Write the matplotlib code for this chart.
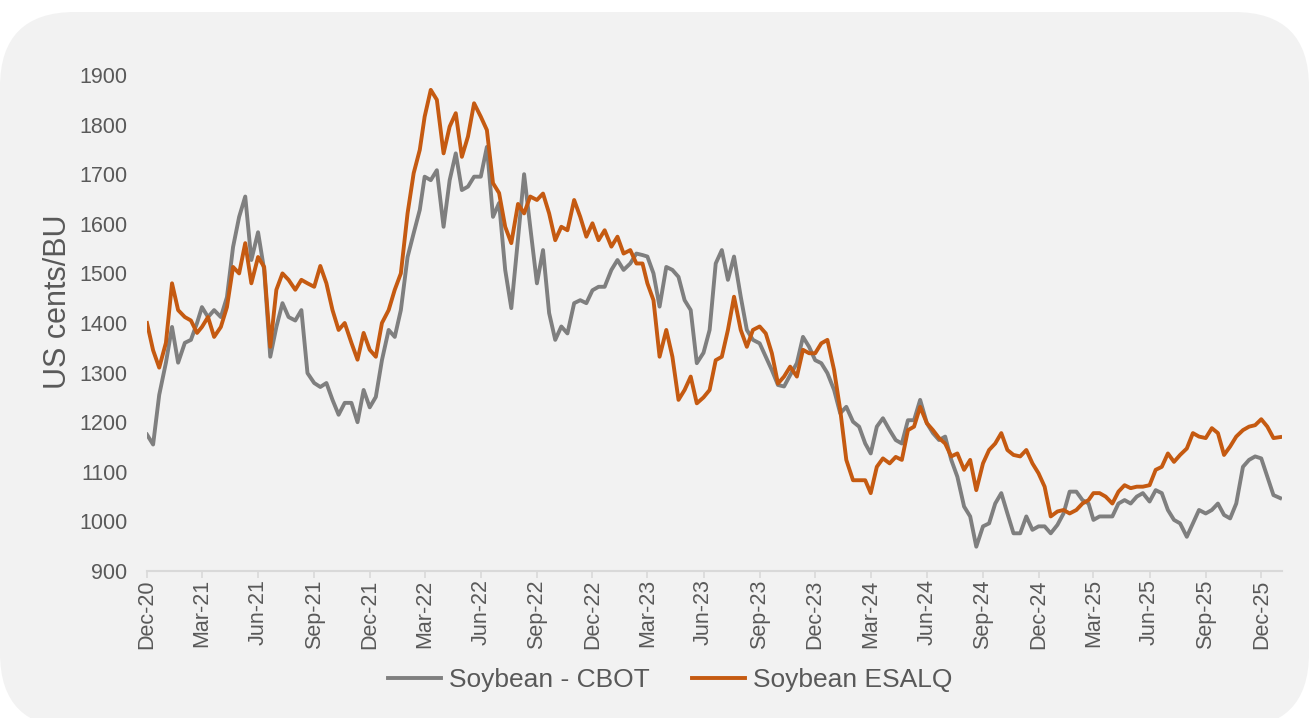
import matplotlib
matplotlib.use("Agg")
import matplotlib.pyplot as plt
import matplotlib.dates as mdates
from matplotlib.patches import FancyBboxPatch
import pandas as pd

plt.rcParams["font.family"] = ["Liberation Sans", "DejaVu Sans"]

# values, ~3 points per month (1st, 11th, 21st), Dec-20 .. Jan-26
cbot = [1175, 1155, 1255, 1320, 1392, 1320, 1360, 1366, 1400, 1432, 1412, 1426,
        1412, 1452, 1553, 1614, 1655, 1527, 1583, 1507, 1332, 1392, 1440, 1412,
        1405, 1426, 1299, 1279, 1271, 1279, 1245, 1215, 1239, 1239, 1200, 1265,
        1230, 1251, 1325, 1386, 1372, 1426, 1533, 1581, 1628, 1695, 1688, 1708,
        1594, 1688, 1742, 1668, 1675, 1695, 1695, 1755, 1614, 1642, 1507, 1430,
        1570, 1700, 1594, 1480, 1547, 1420, 1366, 1393, 1379, 1440, 1446, 1440,
        1466, 1473, 1473, 1507, 1527, 1507, 1520, 1540, 1537, 1534, 1500, 1433,
        1513, 1507, 1493, 1446, 1426, 1319, 1340, 1386, 1520, 1547, 1487, 1534,
        1453, 1386, 1366, 1359, 1332, 1305, 1275, 1272, 1295, 1319, 1372, 1352,
        1325, 1319, 1299, 1265, 1218, 1231, 1201, 1191, 1157, 1137, 1191, 1208,
        1184, 1164, 1157, 1204, 1204, 1245, 1198, 1178, 1164, 1171, 1124, 1090,
        1030, 1010, 949, 990, 996, 1036, 1057, 1016, 976, 976, 1010, 983,
        990, 990, 976, 993, 1016, 1060, 1060, 1043, 1036, 1003, 1010, 1010,
        1010, 1036, 1043, 1036, 1050, 1057, 1040, 1063, 1057, 1023, 1003, 996,
        969, 996, 1023, 1016, 1023, 1036, 1013, 1006, 1036, 1110, 1124, 1131,
        1127, 1090, 1053, 1047]

esalq = [1400, 1345, 1310, 1360, 1480, 1426, 1412, 1405, 1380, 1392, 1412, 1372,
         1392, 1432, 1513, 1500, 1561, 1480, 1533, 1513, 1352, 1467, 1500, 1487,
         1467, 1487, 1480, 1473, 1515, 1480, 1426, 1386, 1400, 1360, 1326, 1380,
         1346, 1332, 1400, 1426, 1467, 1500, 1621, 1702, 1749, 1816, 1870, 1850,
         1742, 1796, 1823, 1735, 1776, 1843, 1816, 1789, 1682, 1662, 1594, 1561,
         1640, 1621, 1655, 1648, 1661, 1621, 1567, 1594, 1587, 1648, 1614, 1574,
         1601, 1567, 1587, 1554, 1574, 1540, 1547, 1520, 1520, 1480, 1446, 1332,
         1386, 1332, 1245, 1265, 1292, 1238, 1250, 1265, 1325, 1332, 1386, 1453,
         1386, 1352, 1386, 1393, 1379, 1339, 1278, 1292, 1312, 1292, 1346, 1339,
         1339, 1359, 1366, 1305, 1225, 1124, 1083, 1083, 1083, 1057, 1110, 1127,
         1117, 1130, 1124, 1184, 1191, 1231, 1198, 1184, 1168, 1157, 1131, 1137,
         1104, 1124, 1063, 1117, 1144, 1157, 1178, 1144, 1134, 1131, 1144, 1117,
         1097, 1070, 1010, 1020, 1023, 1016, 1023, 1036, 1043, 1057, 1057, 1050,
         1036, 1060, 1073, 1067, 1070, 1070, 1073, 1104, 1110, 1137, 1120, 1134,
         1147, 1178, 1171, 1168, 1188, 1178, 1134, 1151, 1171, 1184, 1191, 1194,
         1206, 1191, 1168, 1170]

months = pd.date_range("2020-12-01", "2026-01-01", freq="MS")
dates = [m + pd.Timedelta(days=d) for m in months for d in (0, 10, 20)][:len(cbot)]

txt = "#595959"

fig = plt.figure(figsize=(13.09, 7.18), dpi=100)
fig.patch.set_facecolor("white")

# rounded grey panel behind everything
bg = fig.add_axes([0, 0, 1, 1])
bg.set_xlim(0, 1309)
bg.set_ylim(718, 0)
bg.axis("off")
bg.add_patch(FancyBboxPatch((0, 12), 1309, 716, boxstyle="round,pad=0,rounding_size=75",
                            fc="#f2f2f2", ec="none"))

ax = fig.add_axes([147 / 1309, 1 - 571 / 718, (1282 - 147) / 1309, (571 - 75) / 718])
ax.patch.set_alpha(0)
ax.plot(dates, cbot, color="#7f7f7f", lw=2.8, label="Soybean - CBOT")
ax.plot(dates, esalq, color="#c55a11", lw=2.8, label="Soybean ESALQ")

ax.set_ylim(900, 1900)
ax.set_yticks(range(900, 2000, 100))
ax.set_xlim(dates[0], pd.Timestamp("2026-01-04"))
ax.xaxis.set_major_locator(mdates.MonthLocator(bymonth=[3, 6, 9, 12], bymonthday=1))
ax.xaxis.set_major_formatter(mdates.DateFormatter("%b-%y"))

for s in ["top", "right", "left"]:
    ax.spines[s].set_visible(False)
ax.spines["bottom"].set_color("#d9d9d9")
ax.spines["bottom"].set_linewidth(1.5)
ax.tick_params(axis="x", length=5, width=1.2, color="#d9d9d9", labelsize=15.5,
               labelcolor=txt, labelrotation=90, pad=1)
ax.tick_params(axis="y", length=0, labelsize=15.5, labelcolor=txt, pad=14)

fig.text(58 / 1309, 1 - 302 / 718, "US cents/BU", rotation=90, fontsize=22,
         color=txt, ha="center", va="center")

leg = fig.legend(loc="center", bbox_to_anchor=(0.512, 1 - 680 / 718), ncol=2,
                 frameon=False, fontsize=19, handlelength=2.0, columnspacing=1.6,
                 handletextpad=0.3)
for t in leg.get_texts():
    t.set_color(txt)

fig.savefig("out.png", dpi=100)
